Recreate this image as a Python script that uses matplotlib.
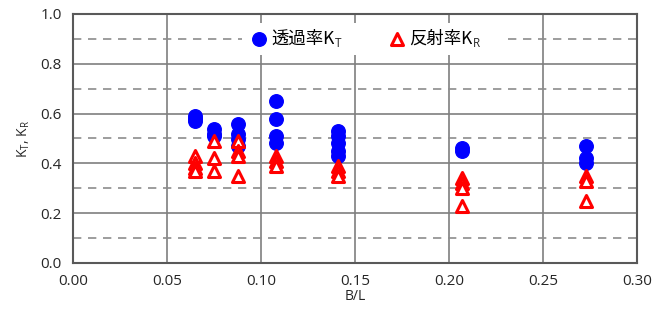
import numpy as np
import matplotlib.pyplot as plt
from matplotlib.patches import Rectangle
from matplotlib.ticker import MultipleLocator

plt.rcParams['font.family'] = ['Open Sans', 'Noto Sans CJK JP', 'DejaVu Sans']
plt.rcParams['mathtext.fontset'] = 'custom'
plt.rcParams['mathtext.rm'] = 'Open Sans'
plt.rcParams['mathtext.default'] = 'rm'

# B/L positions and measured coefficients
kt_x = [0.065, 0.065, 0.065,
        0.075, 0.075, 0.075,
        0.088, 0.088, 0.088, 0.088,
        0.108, 0.108, 0.108, 0.108,
        0.141, 0.141, 0.141, 0.141, 0.141,
        0.207, 0.207,
        0.273, 0.273, 0.273]
kt_y = [0.59, 0.58, 0.57,
        0.54, 0.52, 0.51,
        0.56, 0.52, 0.50, 0.47,
        0.65, 0.58, 0.51, 0.48,
        0.53, 0.51, 0.48, 0.45, 0.43,
        0.46, 0.45,
        0.47, 0.42, 0.40]

kr_x = [0.065, 0.065, 0.065, 0.065,
        0.075, 0.075, 0.075,
        0.088, 0.088, 0.088, 0.088,
        0.108, 0.108, 0.108,
        0.141, 0.141, 0.141,
        0.207, 0.207, 0.207, 0.207,
        0.273, 0.273, 0.273]
kr_y = [0.43, 0.40, 0.38, 0.37,
        0.49, 0.42, 0.37,
        0.49, 0.45, 0.43, 0.35,
        0.43, 0.41, 0.39,
        0.39, 0.37, 0.35,
        0.34, 0.32, 0.30, 0.23,
        0.35, 0.33, 0.25]

labels = ['透過率K', '反射率K']
subs = ['T', 'R']

fig = plt.figure(figsize=(6.56, 3.2), dpi=100)
ax = fig.add_axes([73 / 656, 1 - 263 / 320, 564 / 656, 249 / 320])

ax.scatter(kt_x, kt_y, s=95, marker='o', color='#0000ff', zorder=3,
           label=labels[0])
ax.scatter(kr_x, kr_y, s=75, marker='^', facecolor='white', edgecolor='#ff0000',
           linewidth=2.2, zorder=4, label=labels[1])

ax.set_xlim(0, 0.30)
ax.set_ylim(0, 1.0)
ax.xaxis.set_major_locator(MultipleLocator(0.05))
ax.yaxis.set_major_locator(MultipleLocator(0.2))
ax.yaxis.set_minor_locator(MultipleLocator(0.1))
ax.xaxis.set_major_formatter(plt.FormatStrFormatter('%.2f'))
ax.yaxis.set_major_formatter(plt.FormatStrFormatter('%.1f'))

ax.grid(which='major', color='#7f7f7f', linewidth=1.2, zorder=1)
ax.grid(which='minor', axis='y', color='#8c8c8c', linewidth=1.2,
        linestyle=(0, (5, 4)), zorder=1)
ax.set_axisbelow(True)

for s in ax.spines.values():
    s.set_color('#595959')
    s.set_linewidth(1.5)
ax.tick_params(which='both', length=0, labelsize=11, pad=8, colors='#262626')

ax.set_xlabel('B/L', fontsize=10, labelpad=0, color='#262626')
ax.set_ylabel('K$_{T}$, K$_{R}$', fontsize=10, labelpad=6, color='#262626')

leg = ax.legend(loc='center', bbox_to_anchor=(0.51, 0.9), ncol=2,
                frameon=True, framealpha=1, edgecolor='none',
                prop={'family': ['Noto Sans CJK JP'], 'size': 12.5},
                handletextpad=0.1, columnspacing=3.0, borderpad=0.4,
                handlelength=1.2)
leg.get_frame().set_facecolor('white')

# subscripts after the "K" of each label, on a white patch over the grid
fig.canvas.draw()
inv = fig.transFigure.inverted()
fb = leg.get_frame().get_window_extent()
pads = [14, 30]
for txt, sub, pad in zip(leg.get_texts(), subs, pads):
    bb = txt.get_window_extent()
    (x0, y0), (x1, y1) = inv.transform([(bb.x1 - 1, fb.y0), (bb.x1 + pad, fb.y1)])
    fig.add_artist(Rectangle((x0, y0), x1 - x0, y1 - y0, transform=fig.transFigure,
                             facecolor='white', edgecolor='none', zorder=2))
    x, y = inv.transform((bb.x1, bb.y0 + 1))
    fig.text(x, y, sub, fontsize=8.5, family='Open Sans', color='#262626',
             ha='left', va='baseline', zorder=10)

fig.savefig('out.png', dpi=100)
